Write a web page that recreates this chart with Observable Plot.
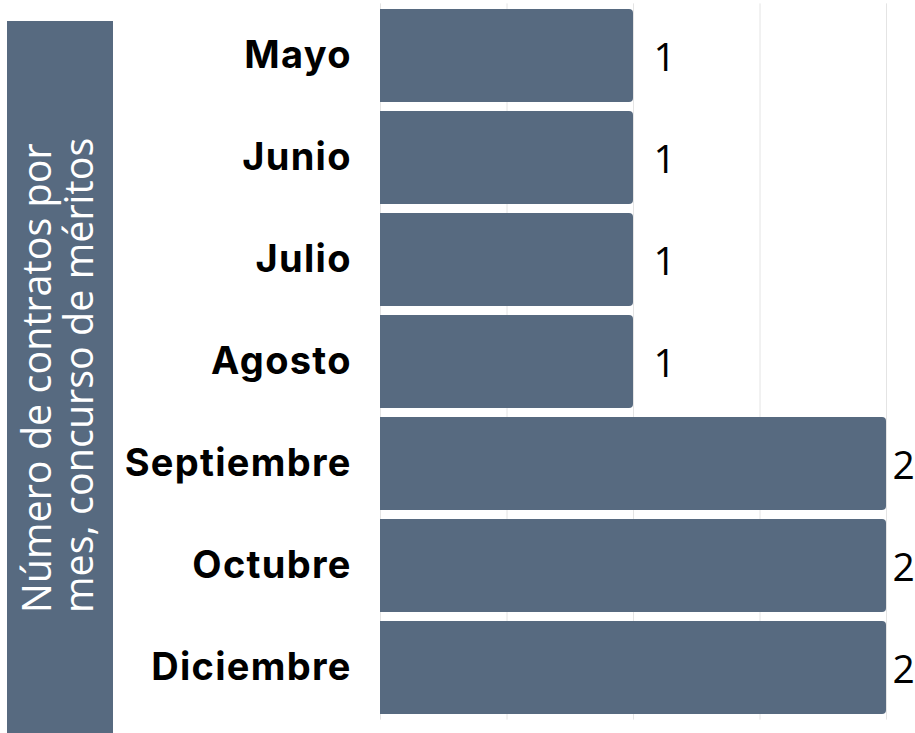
<!DOCTYPE html>
<html>
<head>
<meta charset="utf-8">
<script src="https://cdn.jsdelivr.net/npm/d3@7"></script>
<script src="https://cdn.jsdelivr.net/npm/@observablehq/plot@0.6"></script>
<style>
  html, body { margin: 0; padding: 0; background: #fff; }
  #chart { width: 915px; height: 733px; }
</style>
</head>
<body>
<div id="chart"></div>
<script>
const months = ["Mayo", "Junio", "Julio", "Agosto", "Septiembre", "Octubre", "Diciembre"];
const counts = [1, 1, 1, 1, 2, 2, 2];
const gridTicks = [0, 0.5, 1, 1.5, 2];
const axisTitleLines = ["Número de contratos por", "mes, concurso de méritos"];

const data = months.map((m, i) => ({month: m, value: counts[i]}));
const barColor = "#576a80";

const plot = Plot.plot({
  width: 915,
  height: 733,
  marginLeft: 380,
  marginRight: 29,
  marginTop: 3.4,
  marginBottom: 13.4,
  style: {background: "transparent"},
  x: {domain: [0, 2], axis: null},
  y: {domain: months, paddingInner: 0.093, paddingOuter: 0.04, axis: null},
  marks: [
    Plot.gridX(gridTicks, {stroke: "#e4e4e4", strokeOpacity: 1, strokeWidth: 1}),
    Plot.barX(data, {x: "value", y: "month", fill: barColor, rx2: 4}),
    Plot.axisY({tickSize: 0, tickPadding: 28.7, fontSize: 38, fontWeight: 700, fontFamily: "Inter", fill: "#000", label: null}),
    Plot.text(data.filter(d => d.value < 2), {x: "value", y: "month", text: d => String(d.value), dx: 20, dy: 3, textAnchor: "start", fontSize: 39, fontFamily: "Open Sans", fill: "#000"}),
    Plot.text(data.filter(d => d.value >= 2), {x: "value", y: "month", text: d => String(d.value), dx: 6, dy: 3, textAnchor: "start", fontSize: 39, fontFamily: "Open Sans", fill: "#000"})
  ]
});

const svg = d3.select(plot);
svg.style("overflow", "visible");
svg.selectAll('g[aria-label="y-axis tick label"] text').style("letter-spacing", "1.3px");
svg.insert("rect", ":first-child")
  .attr("x", 7).attr("y", 21).attr("width", 106).attr("height", 712)
  .attr("fill", barColor);
const t = svg.append("text")
  .attr("transform", "translate(51,613) rotate(-90)")
  .attr("fill", "#fff")
  .attr("font-family", "Open Sans, sans-serif")
  .attr("font-size", 39.5)
  .attr("text-anchor", "start");
axisTitleLines.forEach((line, i) => {
  t.append("tspan").attr("x", 0).attr("y", i * 42).text(line);
});

document.getElementById("chart").appendChild(plot);
</script>
</body>
</html>
